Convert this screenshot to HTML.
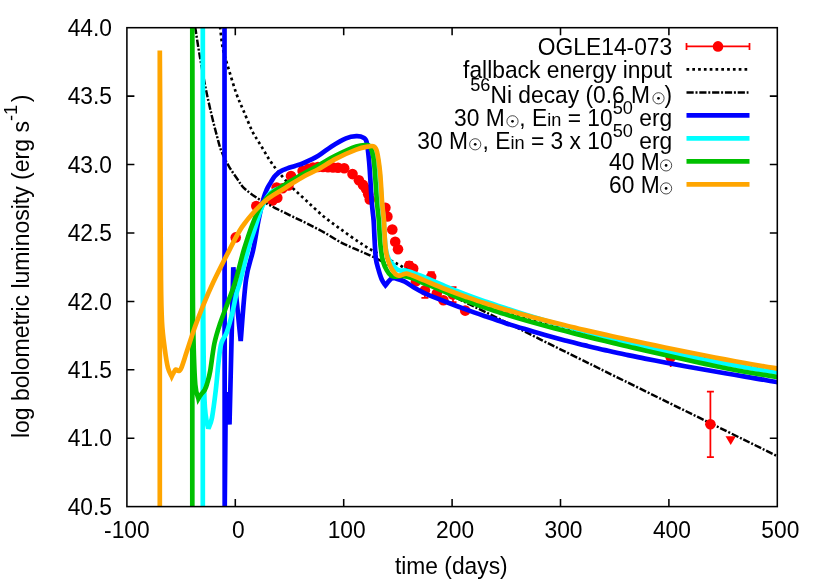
<!DOCTYPE html>
<html><head><meta charset="utf-8"><title>light curve</title>
<style>html,body{margin:0;padding:0;background:#fff}body{width:830px;height:581px;overflow:hidden;font-family:"Liberation Sans",sans-serif}</style>
</head><body>
<svg width="830" height="581" viewBox="0 0 830 581" style="display:block;will-change:transform">
<rect x="0" y="0" width="830" height="581" fill="#fff"/>
<defs><clipPath id="c"><rect x="126.9" y="27.7" width="650.4" height="478.9"/></clipPath></defs>
<g stroke="#000" stroke-width="1.55" fill="none">
<path d="M126.9,438.2 h7.5 M777.3,438.2 h-7.5"/>
<path d="M126.9,369.8 h7.5 M777.3,369.8 h-7.5"/>
<path d="M126.9,301.4 h7.5 M777.3,301.4 h-7.5"/>
<path d="M126.9,232.9 h7.5 M777.3,232.9 h-7.5"/>
<path d="M126.9,164.5 h7.5 M777.3,164.5 h-7.5"/>
<path d="M126.9,96.1 h7.5 M777.3,96.1 h-7.5"/>
<path d="M235.3,506.6 v-7.5 M235.3,27.7 v7.5"/>
<path d="M343.7,506.6 v-7.5 M343.7,27.7 v7.5"/>
<path d="M452.1,506.6 v-7.5 M452.1,27.7 v7.5"/>
<path d="M560.5,506.6 v-7.5 M560.5,27.7 v7.5"/>
<path d="M668.9,506.6 v-7.5 M668.9,27.7 v7.5"/>
</g>
<g clip-path="url(#c)" fill="none" stroke-linejoin="miter" stroke-miterlimit="3">
<g stroke="#f00" stroke-width="1.75" fill="#f00">
<circle cx="235.7" cy="237.4" r="5.3" stroke="none"/>
<circle cx="256.3" cy="206.0" r="5.3" stroke="none"/>
<circle cx="272.5" cy="200.5" r="5.3" stroke="none"/>
<circle cx="277.3" cy="197.8" r="5.3" stroke="none"/>
<circle cx="276.6" cy="187.6" r="5.3" stroke="none"/>
<circle cx="282.5" cy="188.3" r="5.3" stroke="none"/>
<circle cx="288.5" cy="185.5" r="5.3" stroke="none"/>
<circle cx="291.0" cy="176.1" r="5.3" stroke="none"/>
<circle cx="302.6" cy="171.0" r="5.3" stroke="none"/>
<circle cx="308.4" cy="168.9" r="5.3" stroke="none"/>
<circle cx="313.0" cy="167.6" r="5.3" stroke="none"/>
<circle cx="318.0" cy="167.0" r="5.3" stroke="none"/>
<circle cx="323.0" cy="167.0" r="5.3" stroke="none"/>
<circle cx="328.0" cy="167.3" r="5.3" stroke="none"/>
<circle cx="333.0" cy="167.5" r="5.3" stroke="none"/>
<circle cx="338.0" cy="167.8" r="5.3" stroke="none"/>
<circle cx="344.2" cy="168.2" r="5.3" stroke="none"/>
<circle cx="352.5" cy="174.1" r="5.3" stroke="none"/>
<circle cx="358.9" cy="180.3" r="5.3" stroke="none"/>
<circle cx="363.0" cy="184.9" r="5.3" stroke="none"/>
<circle cx="366.1" cy="189.1" r="5.3" stroke="none"/>
<circle cx="368.2" cy="194.2" r="5.3" stroke="none"/>
<circle cx="369.8" cy="199.4" r="5.3" stroke="none"/>
<circle cx="385.4" cy="207.8" r="5.3" stroke="none"/>
<circle cx="387.4" cy="216.5" r="5.3" stroke="none"/>
<circle cx="392.3" cy="229.5" r="5.3" stroke="none"/>
<circle cx="395.2" cy="241.8" r="5.3" stroke="none"/>
<circle cx="398.0" cy="249.3" r="5.3" stroke="none"/>
<path d="M409.2,261.8 V269.8 M405.7,261.8 h7 M405.7,269.8 h7"/>
<circle cx="409.2" cy="265.8" r="5.3" stroke="none"/>
<circle cx="413.2" cy="268.6" r="5.3" stroke="none"/>
<circle cx="416.0" cy="281.3" r="5.3" stroke="none"/>
<path d="M424.9,283.3 V297.9 M421.4,283.3 h7 M421.4,297.9 h7"/>
<circle cx="424.9" cy="290.3" r="5.3" stroke="none"/>
<path d="M431.2,272.0 V282.8 M427.7,272.0 h7 M427.7,282.8 h7"/>
<circle cx="431.2" cy="276.8" r="5.3" stroke="none"/>
<circle cx="436.8" cy="293.6" r="5.3" stroke="none"/>
<circle cx="443.4" cy="300.2" r="5.3" stroke="none"/>
<path d="M453.0,287.0 V302.0 M449.5,287.0 h7 M449.5,302.0 h7"/>
<circle cx="453.0" cy="294.5" r="5.3" stroke="none"/>
<circle cx="465.2" cy="310.6" r="5.3" stroke="none"/>
<path d="M670.7,347.7 V367.1"/>
<circle cx="670.7" cy="357.2" r="5.3" stroke="none"/>
<path d="M725.5,436.3 h10.4 l-5.2,8.6 z" stroke="none"/>
</g>
<path d="M220.1,27.0 C220.6,30.7 221.5,42.2 223.0,49.3 C224.5,56.4 226.7,62.5 228.9,69.8 C231.1,77.1 233.8,86.4 236.2,93.2 C238.6,100.0 240.8,104.4 243.5,110.7 C246.2,117.0 249.4,125.3 252.3,131.2 C255.2,137.0 258.2,140.9 261.1,145.8 C264.0,150.7 267.0,156.1 269.9,160.5 C272.8,164.9 275.1,167.8 278.7,172.2 C282.3,176.6 286.9,182.0 291.7,186.9 C296.4,191.8 301.8,196.5 307.2,201.5 C312.6,206.5 318.6,212.3 324.4,217.0 C330.1,221.7 335.9,225.7 341.7,229.9 C347.4,234.1 354.0,238.7 358.9,242.0 C363.8,245.3 365.4,246.5 370.9,249.7 C376.3,252.8 386.4,258.1 391.6,260.9 C396.8,263.7 398.3,264.3 401.9,266.5 C405.5,268.7 409.3,271.2 413.2,274.0 C417.1,276.8 419.7,280.3 425.0,283.2 C430.3,286.1 438.3,288.9 445.0,291.5 C451.7,294.1 458.3,296.6 465.0,299.0 C471.7,301.3 478.3,303.6 485.0,305.7 C491.7,307.9 498.3,309.9 505.0,311.9 C511.7,313.9 518.3,315.7 525.0,317.6 C531.7,319.4 538.3,321.2 545.0,322.9 C551.7,324.6 558.3,326.2 565.0,327.8 C571.7,329.5 578.3,331.0 585.0,332.6 C591.7,334.1 598.3,335.6 605.0,337.1 C611.7,338.6 618.3,340.1 625.0,341.5 C631.7,343.0 638.3,344.4 645.0,345.8 C651.7,347.2 658.3,348.6 665.0,350.0 C671.7,351.4 678.3,352.7 685.0,354.1 C691.7,355.4 698.3,356.7 705.0,358.0 C711.7,359.3 718.3,360.6 725.0,361.9 C731.7,363.1 738.3,364.3 745.0,365.5 C751.7,366.7 759.5,368.1 765.0,369.0 C770.5,369.9 775.8,370.7 778.0,371.1" stroke="#000" stroke-width="2.7" stroke-dasharray="2.7,3.1"/>
<path d="M195.2,27.0 C195.9,31.7 197.9,45.1 199.6,55.1 C201.3,65.2 203.6,77.5 205.5,87.3 C207.4,97.1 209.4,105.4 211.3,113.7 C213.2,122.0 215.5,130.7 217.2,137.0 C218.9,143.3 219.6,146.8 221.6,151.7 C223.6,156.6 226.2,161.7 228.9,166.3 C231.6,170.9 235.0,175.7 237.7,179.5 C240.4,183.3 240.9,185.4 245.0,189.0 C249.1,192.6 255.0,196.9 262.5,201.3 C270.0,205.7 282.6,211.6 290.0,215.3 C297.4,219.0 301.5,220.7 307.2,223.6 C312.9,226.5 318.6,229.4 324.4,232.6 C330.1,235.8 335.9,239.8 341.7,242.8 C347.4,245.8 353.8,248.3 358.9,250.6 C364.0,252.9 366.3,253.6 372.6,256.6 C378.9,259.6 387.1,264.0 396.7,268.7 C406.3,273.4 418.6,279.4 430.0,285.0 C441.4,290.6 452.7,296.2 465.0,302.2 C477.3,308.2 490.8,314.6 503.6,321.0 C516.5,327.4 529.2,333.9 542.1,340.3 C555.0,346.7 566.9,352.5 580.7,359.3 C594.5,366.1 592.2,365.1 625.0,381.2 C657.8,397.3 752.0,443.7 777.4,456.2" stroke="#000" stroke-width="2.45" stroke-dasharray="7.2,1.8,2.0,1.8"/>
<g stroke="#f00" stroke-width="1.75" fill="#f00">
<path d="M710.4,391.5 V457.1 M706.9,391.5 h7 M706.9,457.1 h7"/>
<circle cx="710.4" cy="424.3" r="5.3" stroke="none"/>
</g>
<path d="M224.5,20 L224.7,510 L225.8,392 L229.5,424.5 L233.3,267.3 L240.7,341.0 C241.6,330.8 243.9,295.2 246.0,280.0 C248.1,264.8 251.1,259.7 253.2,249.8 C255.3,240.0 256.7,229.5 258.4,220.9 C260.1,212.3 262.2,203.5 263.6,198.2 C265.0,192.9 265.8,191.7 267.0,189.0 C268.2,186.3 269.6,184.4 270.8,182.3 C272.1,180.2 273.1,178.2 274.5,176.5 C275.9,174.8 277.6,173.4 279.0,172.3 C280.4,171.2 281.6,170.7 283.0,170.0 C284.4,169.3 285.3,169.1 287.3,168.4 C289.3,167.7 292.2,166.9 295.0,166.0 C297.8,165.1 299.9,164.7 303.8,163.0 C307.7,161.3 313.7,158.6 318.3,155.8 C322.9,153.0 326.9,149.3 331.5,146.4 C336.1,143.5 341.9,140.0 346.0,138.3 C350.1,136.6 353.4,136.3 356.3,136.2 C359.2,136.1 361.9,136.7 363.6,137.7 C365.3,138.7 365.8,138.5 366.7,142.4 C367.6,146.3 368.2,151.3 369.1,161.3 C370.0,171.3 371.1,192.8 371.8,202.6 C372.6,212.4 373.1,213.8 373.6,220.0 C374.1,226.2 374.2,233.7 374.6,240.0 C375.0,246.3 375.2,253.3 375.8,258.1 C376.4,262.9 377.3,265.3 378.3,268.9 C379.3,272.5 380.7,277.1 381.9,279.8 C383.1,282.5 384.9,284.4 385.5,285.3 L385.5,285.3 C386.5,284.2 389.7,279.7 391.5,278.6 C393.3,277.5 394.1,278.1 396.3,278.6 C398.5,279.1 402.0,280.2 404.8,281.6 C407.6,283.0 409.8,285.0 413.2,287.0 C416.6,289.0 419.7,291.0 425.0,293.4 C430.3,295.8 438.3,298.9 445.0,301.5 C451.7,304.1 458.3,306.6 465.0,309.1 C471.7,311.6 478.3,313.9 485.0,316.2 C491.7,318.5 498.3,320.8 505.0,322.9 C511.7,325.1 518.3,327.1 525.0,329.1 C531.7,331.2 538.3,333.1 545.0,335.0 C551.7,336.8 558.3,338.6 565.0,340.4 C571.7,342.1 578.3,343.8 585.0,345.4 C591.7,347.0 598.3,348.6 605.0,350.1 C611.7,351.6 618.3,353.1 625.0,354.5 C631.7,355.9 638.3,357.3 645.0,358.6 C651.7,359.9 658.3,361.2 665.0,362.5 C671.7,363.7 678.3,364.9 685.0,366.2 C691.7,367.4 698.3,368.5 705.0,369.7 C711.7,370.9 718.3,372.0 725.0,373.2 C731.7,374.3 738.3,375.4 745.0,376.6 C751.7,377.7 759.5,379.0 765.0,380.0 C770.5,380.9 775.8,381.9 778.0,382.3" stroke="#0000ff" stroke-width="4.7"/>
<path d="M202.8,510 L202.8,20.0 C202.9,66.7 202.9,236.7 203.2,300.0 C203.5,363.3 203.7,378.5 204.5,400.0 C205.3,421.5 207.7,424.0 208.3,428.8 C208.9,426.9 210.8,424.2 212.0,417.7 C213.2,411.2 214.7,399.2 215.8,390.0 C216.9,380.8 217.6,370.4 218.5,362.6 C219.4,354.8 219.9,348.4 221.3,343.4 C222.7,338.3 225.0,337.4 226.8,332.3 C228.6,327.2 230.7,319.4 232.3,313.0 C233.9,306.6 235.0,299.3 236.4,293.8 C237.8,288.3 238.6,287.3 240.5,280.0 C242.4,272.7 245.6,258.5 248.0,249.8 C250.4,241.1 252.7,235.1 255.0,228.0 C257.3,220.9 259.4,212.9 262.0,207.0 C264.6,201.1 266.9,196.0 270.8,192.5 C274.7,189.0 279.7,188.9 285.2,186.0 C290.7,183.1 298.3,178.1 303.8,175.0 C309.3,171.9 313.0,170.5 318.3,167.5 C323.6,164.5 329.4,160.3 335.7,157.1 C342.0,153.9 350.9,150.0 356.3,148.2 C361.7,146.4 365.2,146.4 368.0,146.2 C370.8,146.0 371.6,146.1 373.0,147.2 C374.4,148.3 375.4,148.6 376.5,152.7 C377.6,156.8 378.6,163.4 379.5,171.7 C380.4,180.0 381.1,194.5 381.8,202.6 C382.5,210.7 383.2,213.8 383.7,220.0 C384.2,226.2 384.4,234.7 384.9,240.0 C385.3,245.3 385.7,248.8 386.4,252.0 C387.1,255.2 388.0,257.5 389.0,259.5 C390.0,261.5 391.3,262.5 392.5,264.0 C393.7,265.5 394.8,267.4 396.0,268.5 C397.2,269.6 398.3,270.2 400.0,270.5 C401.7,270.8 403.8,270.1 406.0,270.5 C408.2,270.9 410.0,271.7 413.2,272.9 C416.4,274.1 419.7,275.2 425.0,277.4 C430.3,279.6 438.3,283.3 445.0,286.1 C451.7,288.9 458.3,291.5 465.0,294.1 C471.7,296.6 478.3,299.0 485.0,301.4 C491.7,303.7 498.3,306.0 505.0,308.1 C511.7,310.3 518.3,312.4 525.0,314.5 C531.7,316.5 538.3,318.5 545.0,320.5 C551.7,322.4 558.3,324.3 565.0,326.1 C571.7,328.0 578.3,329.7 585.0,331.5 C591.7,333.3 598.3,335.0 605.0,336.7 C611.7,338.4 618.3,340.0 625.0,341.6 C631.7,343.3 638.3,344.9 645.0,346.4 C651.7,348.0 658.3,349.5 665.0,351.0 C671.7,352.5 678.3,354.0 685.0,355.5 C691.7,356.9 698.3,358.3 705.0,359.7 C711.7,361.0 718.3,362.4 725.0,363.6 C731.7,364.9 738.3,366.2 745.0,367.3 C751.7,368.5 759.5,369.8 765.0,370.7 C770.5,371.6 775.8,372.3 778.0,372.6" stroke="#00ffff" stroke-width="4.7"/>
<path d="M192.3,510 L192.3,20.0 C192.4,63.3 192.6,226.7 192.8,280.0 C193.0,333.3 193.1,322.6 193.5,340.0 C193.9,357.4 194.5,374.9 195.3,384.7 C196.1,394.4 197.9,396.2 198.4,398.5 C198.8,397.8 199.9,395.9 201.0,394.5 C202.1,393.1 203.7,391.8 204.7,390.0 C205.7,388.2 206.1,387.2 207.0,384.0 C207.9,380.8 209.0,377.8 210.2,371.0 C211.4,364.2 212.8,351.2 214.4,343.4 C216.0,335.6 217.6,330.9 219.9,324.0 C222.2,317.1 225.5,308.9 228.0,302.0 C230.5,295.1 232.3,291.5 235.0,282.8 C237.7,274.1 241.0,259.4 243.9,249.8 C246.8,240.2 249.4,232.2 252.2,225.0 C255.0,217.8 257.4,211.6 260.5,206.4 C263.6,201.2 266.7,197.7 270.8,194.0 C274.9,190.3 279.7,187.9 285.2,184.5 C290.7,181.1 298.3,176.7 303.8,173.5 C309.3,170.3 313.0,168.5 318.3,165.5 C323.6,162.5 329.4,158.9 335.7,155.7 C342.0,152.5 351.1,148.3 356.3,146.5 C361.5,144.7 364.3,144.9 366.7,145.1 C369.1,145.3 369.3,145.0 370.5,147.7 C371.7,150.4 372.8,152.2 373.9,161.3 C375.0,170.5 376.2,192.8 377.0,202.6 C377.8,212.4 378.3,213.8 378.8,220.0 C379.3,226.2 379.6,234.7 380.0,240.0 C380.4,245.3 380.8,248.4 381.3,252.0 C381.8,255.6 382.2,258.7 383.1,261.7 C384.0,264.7 385.4,267.8 386.7,270.1 C388.0,272.4 389.5,274.4 390.9,275.5 C392.3,276.6 393.2,276.6 395.1,276.7 C397.0,276.8 399.3,275.7 402.3,276.0 C405.3,276.3 409.8,277.4 413.2,278.5 C416.6,279.6 419.2,281.3 422.8,282.8 C426.4,284.3 429.6,285.4 435.0,287.6 C440.4,289.9 448.3,293.6 455.0,296.3 C461.7,299.1 468.3,301.6 475.0,304.1 C481.7,306.5 488.3,308.8 495.0,311.0 C501.7,313.2 508.3,315.2 515.0,317.3 C521.7,319.3 528.3,321.2 535.0,323.0 C541.7,324.9 548.3,326.7 555.0,328.4 C561.7,330.2 568.3,331.9 575.0,333.6 C581.7,335.3 588.3,336.9 595.0,338.6 C601.7,340.2 608.3,341.8 615.0,343.4 C621.7,345.0 628.3,346.6 635.0,348.1 C641.7,349.7 648.3,351.2 655.0,352.8 C661.7,354.3 668.3,355.8 675.0,357.3 C681.7,358.8 688.3,360.3 695.0,361.8 C701.7,363.2 708.3,364.6 715.0,366.0 C721.7,367.4 728.3,368.7 735.0,370.0 C741.7,371.2 748.3,372.4 755.0,373.5 C761.7,374.7 771.2,376.0 775.0,376.6 C778.8,377.2 777.5,377.0 778.0,377.0" stroke="#00c000" stroke-width="4.7"/>
<path d="M159.8,510 L159.8,50.5 C159.9,62.1 160.1,95.1 160.2,120.0 C160.3,144.9 160.4,173.3 160.5,200.0 C160.6,226.7 160.8,259.7 161.0,280.0 C161.2,300.3 161.4,310.5 162.0,322.0 C162.6,333.5 163.8,341.3 164.8,349.0 C165.8,356.7 166.8,363.4 168.0,368.0 C169.2,372.6 171.1,375.0 171.7,376.4 C172.0,375.8 172.8,374.1 173.5,373.0 C174.2,371.9 175.0,369.8 175.8,369.5 C176.7,369.2 177.7,371.2 178.6,371.0 C179.5,370.8 179.9,371.2 181.3,368.0 C182.7,364.8 184.5,358.5 186.8,351.6 C189.1,344.7 192.2,334.6 195.0,326.8 C197.8,319.0 200.4,312.1 203.4,304.8 C206.4,297.5 208.7,292.0 213.0,282.8 C217.3,273.6 224.7,259.1 229.5,249.8 C234.3,240.5 237.4,233.8 241.9,227.1 C246.4,220.4 251.8,214.3 256.3,209.5 C260.8,204.7 263.9,201.8 268.7,198.2 C273.5,194.6 279.3,191.5 285.2,187.9 C291.1,184.3 298.3,179.6 303.8,176.5 C309.3,173.4 313.0,172.2 318.3,169.3 C323.6,166.4 329.4,162.1 335.7,158.8 C342.0,155.5 350.8,151.7 356.3,149.6 C361.8,147.5 365.8,147.0 368.7,146.5 C371.6,146.0 372.5,145.6 373.9,146.5 C375.3,147.4 376.0,147.5 377.0,151.7 C378.0,155.9 379.1,163.2 380.0,171.7 C380.9,180.2 381.5,194.5 382.1,202.6 C382.8,210.7 383.4,213.8 383.9,220.0 C384.4,226.2 384.5,234.7 384.9,240.0 C385.3,245.3 385.5,248.4 386.1,252.0 C386.7,255.6 387.4,258.6 388.5,261.7 C389.6,264.8 391.2,268.3 392.7,270.6 C394.2,272.9 395.9,274.7 397.5,275.4 C399.1,276.1 400.8,275.1 402.3,274.8 C403.8,274.5 404.8,273.4 406.6,273.6 C408.4,273.8 410.1,274.6 413.2,275.8 C416.3,277.0 419.7,278.5 425.0,280.7 C430.3,282.9 438.3,286.4 445.0,289.0 C451.7,291.6 458.3,294.1 465.0,296.5 C471.7,298.8 478.3,301.1 485.0,303.2 C491.7,305.4 498.3,307.4 505.0,309.4 C511.7,311.4 518.3,313.2 525.0,315.1 C531.7,316.9 538.3,318.7 545.0,320.4 C551.7,322.1 558.3,323.7 565.0,325.3 C571.7,327.0 578.3,328.5 585.0,330.1 C591.7,331.6 598.3,333.1 605.0,334.6 C611.7,336.1 618.3,337.6 625.0,339.0 C631.7,340.5 638.3,341.9 645.0,343.3 C651.7,344.7 658.3,346.1 665.0,347.5 C671.7,348.9 678.3,350.2 685.0,351.6 C691.7,352.9 698.3,354.2 705.0,355.5 C711.7,356.8 718.3,358.1 725.0,359.4 C731.7,360.6 738.3,361.8 745.0,363.0 C751.7,364.2 759.5,365.6 765.0,366.5 C770.5,367.4 775.8,368.2 778.0,368.6" stroke="#ffa500" stroke-width="4.7"/>
</g>
<rect x="126.9" y="27.7" width="650.4" height="478.9" fill="none" stroke="#000" stroke-width="1.55"/>
<g fill="none">
<path d="M686.5,46.4 H749.5 M686.5,42.9 v7 M749.5,42.9 v7" stroke="#f00" stroke-width="1.75"/>
<circle cx="718.0" cy="46.4" r="5.3" fill="#f00"/>
<path d="M686.5,69.4 H748.5" stroke="#000" stroke-width="2.7" stroke-dasharray="2.7,3.1"/>
<path d="M686.5,92.4 H748.5" stroke="#000" stroke-width="2.45" stroke-dasharray="7.2,1.8,2.0,1.8"/>
<path d="M686.5,115.4 H749.5" stroke="#0000ff" stroke-width="4.7"/>
<path d="M686.5,138.4 H749.5" stroke="#00ffff" stroke-width="4.7"/>
<path d="M686.5,161.4 H749.5" stroke="#00c000" stroke-width="4.7"/>
<path d="M686.5,184.4 H749.5" stroke="#ffa500" stroke-width="4.7"/>
</g>
<g font-family="'Liberation Sans', sans-serif" font-size="22.80" fill="#000">
<text transform="translate(112.0,514.7) scale(1,1.050)" text-anchor="end">40.5</text>
<text transform="translate(112.0,446.3) scale(1,1.050)" text-anchor="end">41.0</text>
<text transform="translate(112.0,377.9) scale(1,1.050)" text-anchor="end">41.5</text>
<text transform="translate(112.0,309.5) scale(1,1.050)" text-anchor="end">42.0</text>
<text transform="translate(112.0,241.0) scale(1,1.050)" text-anchor="end">42.5</text>
<text transform="translate(112.0,172.6) scale(1,1.050)" text-anchor="end">43.0</text>
<text transform="translate(112.0,104.2) scale(1,1.050)" text-anchor="end">43.5</text>
<text transform="translate(112.0,35.8) scale(1,1.050)" text-anchor="end">44.0</text>
<text transform="translate(126.9,538.2) scale(1,1.050)" text-anchor="middle">-100</text>
<text transform="translate(238.3,538.2) scale(1,1.050)" text-anchor="middle">0</text>
<text transform="translate(346.7,538.2) scale(1,1.050)" text-anchor="middle">100</text>
<text transform="translate(455.1,538.2) scale(1,1.050)" text-anchor="middle">200</text>
<text transform="translate(563.5,538.2) scale(1,1.050)" text-anchor="middle">300</text>
<text transform="translate(671.9,538.2) scale(1,1.050)" text-anchor="middle">400</text>
<text transform="translate(780.3,538.2) scale(1,1.050)" text-anchor="middle">500</text>
<text transform="translate(451.3,573.6) scale(1,1.015)" text-anchor="middle">time (days)</text>
<text transform="translate(28.7,438.1) rotate(-90) scale(1,1.000)" text-anchor="start" font-size="23">log bolometric luminosity (erg s<tspan dy="-11.5" font-size="18.3">-1</tspan><tspan dy="11.5" dx="2.6">)</tspan></text>
<text transform="translate(672.2,54.8) scale(1,1.015)" text-anchor="end">OGLE14-073</text>
<text transform="translate(672.2,77.8) scale(1,1.015)" text-anchor="end">fallback energy input</text>
<text transform="translate(672.2,102.6) scale(1,1.015)" text-anchor="end"><tspan dy="-11.3" font-size="18.2">56</tspan><tspan dy="11.3">Ni decay (0.6 M</tspan><tspan dx="14.5">)</tspan></text>
<circle cx="658.5" cy="98.3" r="5.6" fill="none" stroke="#000" stroke-width="0.7"/><circle cx="658.5" cy="98.3" r="1.35"/>
<text transform="translate(672.2,125.6) scale(1,1.015)" text-anchor="end">30 M<tspan dx="14.5">, E</tspan><tspan font-size="18.2">in</tspan> = 10<tspan dy="-11.3" font-size="18.2">50</tspan><tspan dy="11.3"> erg</tspan></text>
<circle cx="512.5" cy="121.3" r="5.6" fill="none" stroke="#000" stroke-width="0.7"/><circle cx="512.5" cy="121.3" r="1.35"/>
<text transform="translate(672.2,148.6) scale(1,1.015)" text-anchor="end">30 M<tspan dx="14.5">, E</tspan><tspan font-size="18.2">in</tspan> = 3 x 10<tspan dy="-11.3" font-size="18.2">50</tspan><tspan dy="11.3"> erg</tspan></text>
<circle cx="475.2" cy="144.3" r="5.6" fill="none" stroke="#000" stroke-width="0.7"/><circle cx="475.2" cy="144.3" r="1.35"/>
<text transform="translate(659.7,169.8) scale(1,1.015)" text-anchor="end">40 M</text>
<circle cx="666.1" cy="165.4" r="5.6" fill="none" stroke="#000" stroke-width="0.7"/><circle cx="666.1" cy="165.4" r="1.35"/>
<text transform="translate(659.7,192.8) scale(1,1.015)" text-anchor="end">60 M</text>
<circle cx="666.1" cy="188.4" r="5.6" fill="none" stroke="#000" stroke-width="0.7"/><circle cx="666.1" cy="188.4" r="1.35"/>
</g>
</svg>
</body></html>
